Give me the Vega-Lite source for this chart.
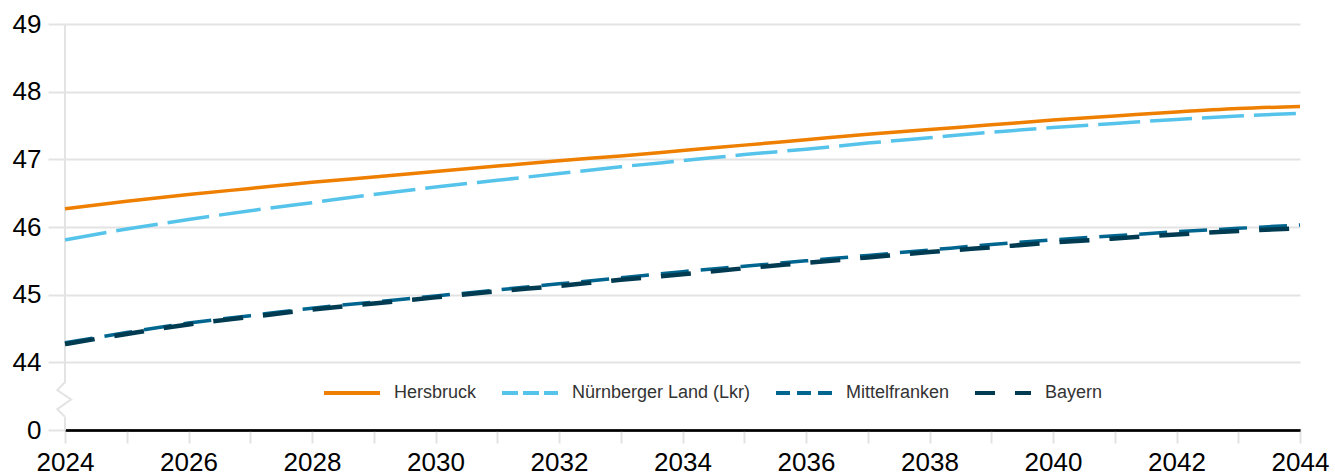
{
  "$schema": "https://vega.github.io/schema/vega-lite/v6.json",
  "width": 1235,
  "height": 406,
  "autosize": {"type": "none"},
  "padding": {"left": 65, "top": 24, "right": 35, "bottom": 46},
  "background": "white",
  "config": {
    "view": {"stroke": null},
    "font": "Liberation Sans"
  },
  "data": {"values": [{}]},
  "datasets": {
    "series": [
      {"jahr": 2024, "region": "Hersbruck", "wert": 46.27},
      {"jahr": 2025, "region": "Hersbruck", "wert": 46.38},
      {"jahr": 2026, "region": "Hersbruck", "wert": 46.48},
      {"jahr": 2027, "region": "Hersbruck", "wert": 46.57},
      {"jahr": 2028, "region": "Hersbruck", "wert": 46.66},
      {"jahr": 2029, "region": "Hersbruck", "wert": 46.74},
      {"jahr": 2030, "region": "Hersbruck", "wert": 46.82},
      {"jahr": 2031, "region": "Hersbruck", "wert": 46.90},
      {"jahr": 2032, "region": "Hersbruck", "wert": 46.98},
      {"jahr": 2033, "region": "Hersbruck", "wert": 47.05},
      {"jahr": 2034, "region": "Hersbruck", "wert": 47.13},
      {"jahr": 2035, "region": "Hersbruck", "wert": 47.21},
      {"jahr": 2036, "region": "Hersbruck", "wert": 47.29},
      {"jahr": 2037, "region": "Hersbruck", "wert": 47.37},
      {"jahr": 2038, "region": "Hersbruck", "wert": 47.44},
      {"jahr": 2039, "region": "Hersbruck", "wert": 47.51},
      {"jahr": 2040, "region": "Hersbruck", "wert": 47.58},
      {"jahr": 2041, "region": "Hersbruck", "wert": 47.64},
      {"jahr": 2042, "region": "Hersbruck", "wert": 47.70},
      {"jahr": 2043, "region": "Hersbruck", "wert": 47.75},
      {"jahr": 2044, "region": "Hersbruck", "wert": 47.78},
      {"jahr": 2024, "region": "Nürnberger Land (Lkr)", "wert": 45.81},
      {"jahr": 2025, "region": "Nürnberger Land (Lkr)", "wert": 45.97},
      {"jahr": 2026, "region": "Nürnberger Land (Lkr)", "wert": 46.11},
      {"jahr": 2027, "region": "Nürnberger Land (Lkr)", "wert": 46.24},
      {"jahr": 2028, "region": "Nürnberger Land (Lkr)", "wert": 46.36},
      {"jahr": 2029, "region": "Nürnberger Land (Lkr)", "wert": 46.48},
      {"jahr": 2030, "region": "Nürnberger Land (Lkr)", "wert": 46.59},
      {"jahr": 2031, "region": "Nürnberger Land (Lkr)", "wert": 46.69},
      {"jahr": 2032, "region": "Nürnberger Land (Lkr)", "wert": 46.79},
      {"jahr": 2033, "region": "Nürnberger Land (Lkr)", "wert": 46.89},
      {"jahr": 2034, "region": "Nürnberger Land (Lkr)", "wert": 46.98},
      {"jahr": 2035, "region": "Nürnberger Land (Lkr)", "wert": 47.07},
      {"jahr": 2036, "region": "Nürnberger Land (Lkr)", "wert": 47.15},
      {"jahr": 2037, "region": "Nürnberger Land (Lkr)", "wert": 47.24},
      {"jahr": 2038, "region": "Nürnberger Land (Lkr)", "wert": 47.32},
      {"jahr": 2039, "region": "Nürnberger Land (Lkr)", "wert": 47.40},
      {"jahr": 2040, "region": "Nürnberger Land (Lkr)", "wert": 47.47},
      {"jahr": 2041, "region": "Nürnberger Land (Lkr)", "wert": 47.53},
      {"jahr": 2042, "region": "Nürnberger Land (Lkr)", "wert": 47.59},
      {"jahr": 2043, "region": "Nürnberger Land (Lkr)", "wert": 47.64},
      {"jahr": 2044, "region": "Nürnberger Land (Lkr)", "wert": 47.68},
      {"jahr": 2024, "region": "Mittelfranken", "wert": 44.29},
      {"jahr": 2025, "region": "Mittelfranken", "wert": 44.44},
      {"jahr": 2026, "region": "Mittelfranken", "wert": 44.58},
      {"jahr": 2027, "region": "Mittelfranken", "wert": 44.69},
      {"jahr": 2028, "region": "Mittelfranken", "wert": 44.80},
      {"jahr": 2029, "region": "Mittelfranken", "wert": 44.89},
      {"jahr": 2030, "region": "Mittelfranken", "wert": 44.98},
      {"jahr": 2031, "region": "Mittelfranken", "wert": 45.07},
      {"jahr": 2032, "region": "Mittelfranken", "wert": 45.16},
      {"jahr": 2033, "region": "Mittelfranken", "wert": 45.25},
      {"jahr": 2034, "region": "Mittelfranken", "wert": 45.34},
      {"jahr": 2035, "region": "Mittelfranken", "wert": 45.42},
      {"jahr": 2036, "region": "Mittelfranken", "wert": 45.50},
      {"jahr": 2037, "region": "Mittelfranken", "wert": 45.58},
      {"jahr": 2038, "region": "Mittelfranken", "wert": 45.66},
      {"jahr": 2039, "region": "Mittelfranken", "wert": 45.74},
      {"jahr": 2040, "region": "Mittelfranken", "wert": 45.81},
      {"jahr": 2041, "region": "Mittelfranken", "wert": 45.87},
      {"jahr": 2042, "region": "Mittelfranken", "wert": 45.93},
      {"jahr": 2043, "region": "Mittelfranken", "wert": 45.98},
      {"jahr": 2044, "region": "Mittelfranken", "wert": 46.03},
      {"jahr": 2024, "region": "Bayern", "wert": 44.27},
      {"jahr": 2025, "region": "Bayern", "wert": 44.42},
      {"jahr": 2026, "region": "Bayern", "wert": 44.56},
      {"jahr": 2027, "region": "Bayern", "wert": 44.67},
      {"jahr": 2028, "region": "Bayern", "wert": 44.78},
      {"jahr": 2029, "region": "Bayern", "wert": 44.87},
      {"jahr": 2030, "region": "Bayern", "wert": 44.96},
      {"jahr": 2031, "region": "Bayern", "wert": 45.05},
      {"jahr": 2032, "region": "Bayern", "wert": 45.13},
      {"jahr": 2033, "region": "Bayern", "wert": 45.22},
      {"jahr": 2034, "region": "Bayern", "wert": 45.30},
      {"jahr": 2035, "region": "Bayern", "wert": 45.39},
      {"jahr": 2036, "region": "Bayern", "wert": 45.47},
      {"jahr": 2037, "region": "Bayern", "wert": 45.55},
      {"jahr": 2038, "region": "Bayern", "wert": 45.63},
      {"jahr": 2039, "region": "Bayern", "wert": 45.70},
      {"jahr": 2040, "region": "Bayern", "wert": 45.77},
      {"jahr": 2041, "region": "Bayern", "wert": 45.83},
      {"jahr": 2042, "region": "Bayern", "wert": 45.89},
      {"jahr": 2043, "region": "Bayern", "wert": 45.94},
      {"jahr": 2044, "region": "Bayern", "wert": 45.98}
    ]
  },
  "layer": [
    {
      "mark": {"type": "rule", "color": "#e3e3e3", "strokeWidth": 2},
      "encoding": {
        "x": {"datum": 2024, "type": "quantitative"},
        "y": {"datum": 49, "type": "quantitative"},
        "y2": {"datum": 43.7}
      }
    },
    {
      "mark": {"type": "rule", "color": "#e3e3e3", "strokeWidth": 2},
      "encoding": {
        "x": {"datum": 2024, "type": "quantitative"},
        "y": {"datum": 43.19, "type": "quantitative"},
        "y2": {"datum": 43}
      }
    },
    {
      "mark": {
        "type": "point",
        "shape": "M0,-1 L-0.45,-0.55 L0.35,0 L-0.45,0.55 L0,1",
        "filled": false,
        "stroke": "#e3e3e3",
        "strokeWidth": 2,
        "size": 1200,
        "opacity": 1
      },
      "encoding": {
        "x": {"datum": 2024, "type": "quantitative"},
        "y": {"datum": 43.45, "type": "quantitative"}
      }
    },
    {
      "data": {"name": "series"},
      "encoding": {
        "x": {
          "field": "jahr",
          "type": "quantitative",
          "scale": {"domain": [2024, 2044], "nice": false, "zero": false},
          "axis": {
            "title": null,
            "values": [2024, 2025, 2026, 2027, 2028, 2029, 2030, 2031, 2032, 2033, 2034, 2035, 2036, 2037, 2038, 2039, 2040, 2041, 2042, 2043, 2044],
            "labelExpr": "datum.value % 2 == 0 ? '' + datum.value : ''",
            "grid": false,
            "domainColor": "#000000",
            "domainWidth": 2.5,
            "tickColor": "#e3e3e3",
            "tickWidth": 2,
            "tickSize": 13,
            "labelFontSize": 26,
            "labelColor": "#000000",
            "labelPadding": 6,
            "labelFlush": false
          }
        },
        "y": {
          "field": "wert",
          "type": "quantitative",
          "scale": {"domain": [43, 49], "nice": false, "zero": false},
          "axis": {
            "title": null,
            "values": [43, 44, 45, 46, 47, 48, 49],
            "labelExpr": "datum.value == 43 ? '0' : format(datum.value, 'd')",
            "domain": false,
            "grid": true,
            "gridColor": {"condition": {"test": "datum.value == 43", "value": "#000000"}, "value": "#e3e3e3"},
            "gridWidth": 2,
            "tickColor": "#e3e3e3",
            "tickWidth": 2,
            "tickSize": 17,
            "labelFontSize": 26,
            "labelColor": "#000000",
            "labelPadding": 7
          }
        },
        "color": {
          "field": "region",
          "type": "nominal",
          "sort": ["Hersbruck", "Nürnberger Land (Lkr)", "Mittelfranken", "Bayern"],
          "scale": {
            "domain": ["Hersbruck", "Nürnberger Land (Lkr)", "Mittelfranken", "Bayern"],
            "range": ["#EE7F00", "#56C4EA", "#00668F", "#003B52"]
          },
          "legend": {
            "title": null,
            "orient": "none",
            "direction": "horizontal",
            "legendX": 257,
            "legendY": 339,
            "symbolType": "stroke",
            "symbolSize": 3136,
            "symbolStrokeWidth": 4,
            "labelFontSize": 18,
            "labelColor": "#333333",
            "labelOffset": 12,
            "columnPadding": 17,
            "labelLimit": 400,
            "encode": {
              "symbols": {
                "update": {
                  "strokeDash": {"signal": "datum.label == 'Bayern' ? [20, 20] : datum.label == 'Mittelfranken' ? [14, 7] : datum.label == 'Hersbruck' ? [1, 0] : [16, 5]"}
                }
              }
            }
          }
        }
      },
      "layer": [
        {
          "transform": [{"filter": "datum.region == 'Hersbruck'"}],
          "mark": {"type": "line", "strokeCap": "butt", "interpolate": "monotone", "strokeWidth": 3.5}
        },
        {
          "transform": [{"filter": "datum.region == 'Nürnberger Land (Lkr)'"}],
          "mark": {"type": "line", "strokeCap": "butt", "interpolate": "monotone", "strokeWidth": 3.5, "strokeDash": [42, 10]}
        },
        {
          "transform": [{"filter": "datum.region == 'Mittelfranken'"}],
          "mark": {"type": "line", "strokeCap": "butt", "interpolate": "monotone", "strokeWidth": 3.5, "strokeDash": [28, 12]}
        },
        {
          "transform": [{"filter": "datum.region == 'Bayern'"}],
          "mark": {"type": "line", "strokeCap": "butt", "interpolate": "monotone", "strokeWidth": 4.5, "strokeDash": [30, 20]}
        }
      ]
    }
  ]
}
